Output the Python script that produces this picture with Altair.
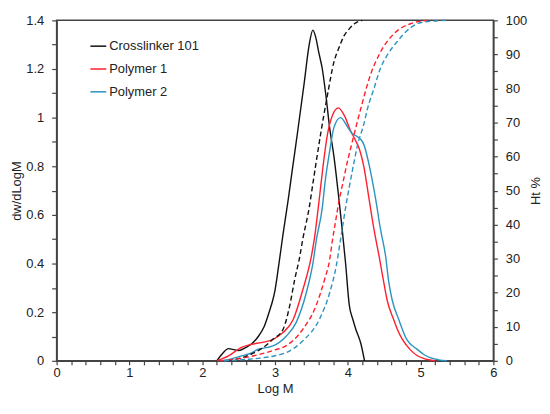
import altair as alt
import pandas as pd

series = ["Crosslinker 101", "Polymer 1", "Polymer 2"]
colors = ["#111111", "#ff1f2e", "#2b93bf"]

# dw/dLogM (left axis)
cl_x = [2.20, 2.28, 2.36, 2.42, 2.50, 2.60, 2.68, 2.77, 2.85, 2.93, 2.97, 3.00, 3.05, 3.11, 3.18, 3.24, 3.31, 3.40, 3.47, 3.52, 3.56, 3.60, 3.65, 3.70, 3.75, 3.81, 3.88, 3.92, 3.97, 4.02, 4.07, 4.11, 4.18, 4.23]
cl_y = [0.00, 0.03, 0.05, 0.047, 0.042, 0.055, 0.07, 0.10, 0.14, 0.21, 0.25, 0.29, 0.39, 0.52, 0.66, 0.79, 0.94, 1.14, 1.30, 1.36, 1.33, 1.27, 1.20, 1.09, 0.96, 0.84, 0.66, 0.55, 0.40, 0.23, 0.17, 0.13, 0.07, 0.00]

p1_x = [2.20, 2.36, 2.46, 2.54, 2.68, 2.81, 2.95, 3.04, 3.11, 3.25, 3.38, 3.50, 3.54, 3.61, 3.66, 3.72, 3.79, 3.87, 3.95, 4.04, 4.10, 4.16, 4.22, 4.29, 4.36, 4.43, 4.49, 4.54, 4.63, 4.68, 4.75, 4.86, 4.95, 5.04, 5.20]
p1_y = [0.00, 0.02, 0.04, 0.055, 0.068, 0.075, 0.085, 0.10, 0.116, 0.17, 0.29, 0.43, 0.50, 0.67, 0.80, 0.93, 1.01, 1.04, 1.01, 0.945, 0.91, 0.87, 0.80, 0.67, 0.54, 0.43, 0.33, 0.25, 0.17, 0.13, 0.088, 0.045, 0.022, 0.01, 0.00]

p2_x = [2.25, 2.40, 2.54, 2.68, 2.77, 2.90, 2.97, 3.15, 3.29, 3.43, 3.52, 3.57, 3.65, 3.69, 3.75, 3.81, 3.90, 3.96, 4.00, 4.06, 4.13, 4.18, 4.22, 4.29, 4.38, 4.45, 4.52, 4.56, 4.61, 4.70, 4.81, 4.95, 5.05, 5.13, 5.25, 5.36]
p2_y = [0.00, 0.008, 0.02, 0.033, 0.048, 0.055, 0.061, 0.10, 0.157, 0.28, 0.40, 0.50, 0.63, 0.74, 0.86, 0.96, 1.00, 0.98, 0.96, 0.935, 0.922, 0.91, 0.89, 0.81, 0.67, 0.54, 0.43, 0.33, 0.25, 0.17, 0.088, 0.048, 0.025, 0.013, 0.004, 0.00]

# Ht % (right axis, cumulative)
clc_x = [2.35, 2.60, 2.77, 2.84, 2.97, 3.11, 3.20, 3.27, 3.34, 3.38, 3.47, 3.52, 3.63, 3.72, 3.81, 3.88, 3.95, 4.02, 4.09, 4.20]
clc_y = [0.0, 1.3, 3.0, 3.9, 6.3, 9.2, 16.0, 23.8, 30.6, 35.5, 45.0, 52.0, 67.0, 78.0, 87.8, 92.0, 95.5, 97.5, 99.0, 100.0]

p1c_x = [2.25, 2.50, 2.77, 3.00, 3.15, 3.38, 3.56, 3.68, 3.75, 3.79, 3.84, 3.88, 3.93, 4.00, 4.04, 4.18, 4.31, 4.45, 4.63, 4.86, 5.09]
p1c_y = [0.0, 0.6, 1.8, 3.2, 4.4, 9.2, 16.0, 23.8, 29.6, 35.5, 42.0, 47.0, 52.0, 59.0, 62.5, 74.2, 83.9, 90.7, 96.0, 99.0, 100.0]

p2c_x = [2.30, 2.60, 2.80, 3.00, 3.15, 3.38, 3.61, 3.75, 3.84, 3.90, 3.97, 4.02, 4.09, 4.13, 4.22, 4.27, 4.36, 4.45, 4.54, 4.68, 4.86, 5.04, 5.35]
p2c_y = [0.0, 0.4, 0.8, 1.5, 2.4, 5.8, 12.2, 19.9, 27.7, 35.5, 45.0, 51.0, 58.8, 63.0, 69.5, 74.0, 80.0, 86.0, 89.7, 93.8, 97.8, 99.5, 100.0]

x_ticks = [round(i * 0.2, 1) for i in range(31)]
yl_ticks = [round(i * 0.1, 1) for i in range(15)]
yr_ticks = [i * 5 for i in range(21)]

def frame(xs, ys, name, col):
    return pd.DataFrame({"logM": xs, col: ys, "series": name})

solid = pd.concat([
    frame(cl_x, cl_y, series[0], "dw"),
    frame(p1_x, p1_y, series[1], "dw"),
    frame(p2_x, p2_y, series[2], "dw"),
])
cum = pd.concat([
    frame(clc_x, clc_y, series[0], "ht"),
    frame(p1c_x, p1c_y, series[1], "ht"),
    frame(p2c_x, p2c_y, series[2], "ht"),
])

x_enc = alt.X(
    "logM:Q",
    scale=alt.Scale(domain=[0, 6], nice=False, zero=False),
    axis=alt.Axis(
        title="Log M", values=x_ticks,
        labelExpr="abs(datum.value - round(datum.value)) < 0.001 ? format(datum.value, 'd') : ''",
        tickSize=4, labelPadding=2, titlePadding=3,
        labelFlush=False, labelOverlap=False,
    ),
)

color_scale = alt.Scale(domain=series, range=colors)

solid_layer = alt.Chart(solid).mark_line(strokeWidth=1.4, interpolate="monotone").encode(
    x=x_enc,
    y=alt.Y(
        "dw:Q",
        scale=alt.Scale(domain=[0, 1.4], nice=False, zero=True),
        axis=alt.Axis(
            title="dw/dLogM", orient="left", values=yl_ticks,
            labelExpr="round(datum.value * 10) % 2 == 0 ? format(datum.value, '~g') : ''",
            tickSize=5, labelPadding=8, titlePadding=2,
            labelFlush=False, labelOverlap=False,
        ),
    ),
    color=alt.Color(
        "series:N", scale=color_scale, sort=series,
        legend=alt.Legend(
            title=None, orient="none", legendX=33, legendY=17,
            symbolType="stroke", symbolSize=256, symbolStrokeWidth=1.5,
            labelOffset=2, rowPadding=7, padding=0,
            labelFont="Liberation Sans", labelFontSize=13, labelColor="#222",
        ),
    ),
    detail="series:N",
)

dash_layer = alt.Chart(cum).mark_line(strokeWidth=1.4, strokeDash=[5, 3], interpolate="monotone").encode(
    x=x_enc,
    y=alt.Y(
        "ht:Q",
        scale=alt.Scale(domain=[0, 100], nice=False, zero=True),
        axis=alt.Axis(
            title="Ht %", orient="right", values=yr_ticks,
            labelExpr="datum.value % 10 == 0 ? format(datum.value, 'd') : ''",
            tickSize=4, labelPadding=8, titlePadding=3,
            titleAngle=270, titleBaseline="top",
            labelFlush=False, labelOverlap=False,
        ),
    ),
    color=alt.Color("series:N", scale=color_scale, sort=series, legend=None),
    detail="series:N",
)

chart = alt.layer(solid_layer, dash_layer).resolve_scale(y="independent").properties(
    width=440, height=343,
    autosize=alt.AutoSizeParams(type="none"),
    padding={"left": 49, "top": 11, "right": 49, "bottom": 34},
).configure_axis(
    labelFont="Liberation Sans", titleFont="Liberation Sans",
    labelFontSize=13, titleFontSize=13, titleFontWeight="normal",
    labelColor="#222", titleColor="#222",
    domainColor="#444", tickColor="#444", domainWidth=1.5, tickWidth=1.2,
    grid=False,
).configure_view(stroke="#444", strokeWidth=1.5)

chart.save("out.html", embed_options={"renderer": "svg", "actions": False})
